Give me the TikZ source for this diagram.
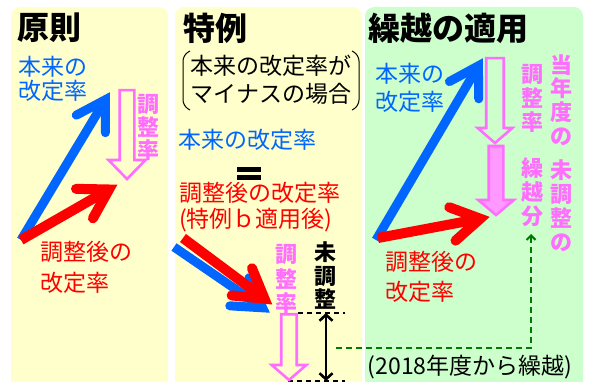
\documentclass[tikz,border=0pt]{standalone}
\usepackage{fontspec}
\setmainfont{Noto Sans CJK JP}
\usetikzlibrary{calc,arrows.meta}
\definecolor{pyel}{HTML}{FFFFCC}
\definecolor{pgrn}{HTML}{CCFFCC}
\definecolor{jblue}{HTML}{0066FF}
\definecolor{jred}{HTML}{FF0000}
\definecolor{jpink}{HTML}{FF6EFF}
\definecolor{jpinkfill}{HTML}{FF99FF}
\definecolor{jgreen}{HTML}{007A00}
\newcommand{\fatarrow}[4]{%
  \draw[#1, line width=#2] (#3) -- ($(#4)!3pt!(#3)$);
  \draw[#1, line width=#2, line cap=round, line join=miter, miter limit=10]
    ($(#4)!33pt!31:(#3)$) -- (#4) -- ($(#4)!33pt!-31:(#3)$);
}
\newcommand{\blockarrow}[7]{%
  \draw[#7] (#1-#5,#2) -- (#1+#5,#2) -- (#1+#5,#3) -- (#1+#6,#3) -- (#1,#4)
    -- (#1-#6,#3) -- (#1-#5,#3) -- cycle;
}
\begin{document}
\begin{tikzpicture}[x=1pt,y=-1pt,
  panel/.style={rounded corners=9pt},
  title/.style={font=\fontsize{32}{34}\selectfont\bfseries, anchor=west, inner sep=0},
  txt/.style={font=\fontsize{23}{#1}\selectfont, anchor=west, inner sep=0, align=left},
  txt/.default=24,
  vtxt/.style={font=\fontsize{22}{#1}\selectfont\bfseries, inner sep=0, align=center, text=jpink},
  vtxt/.default=24,
  hollow/.style={draw=jpink, line width=2.6pt, line join=miter},
  solidar/.style={draw=jpink, fill=jpinkfill, line width=2.6pt, line join=miter},
  guide/.style={line width=1.4pt, dash pattern=on 5pt off 4pt},
]
\useasboundingbox (0,0) rectangle (589,382);
% panels
\fill[pyel, panel] (11,7) rectangle (168,400);
\fill[pyel, panel] (175,7) rectangle (362,400);
\fill[pgrn, panel] (365,7) rectangle (583,400);

% titles
\node[title] (t1) at (17,28) {原則};
\node[title] (t2) at (183,28) {特例};
\node[title] (t3) at (368,28) {繰越の適用};

% ---------- panel 1
\node[txt, text=jblue] (p1blue) at (18,79) {本来の\\改定率};
\node[txt=31, text=jred] (p1red) at (40,267) {調整後の\\改定率};
\coordinate (p1s) at (21,240);
\coordinate (p1bt) at (105.4,99.7);
\coordinate (p1rt) at (109,189.5);
\fatarrow{jblue}{9pt}{p1s}{p1bt}
\fatarrow{jred}{10pt}{p1s}{p1rt}
\blockarrow{127}{90.2}{160}{179}{7.3}{18.5}{hollow}
\node[vtxt=23] (p1adj) at (148,127) {調\\整\\率};

% ---------- panel 2
\draw[line width=1pt, rounded corners=6pt] (190,51) -- (183,55) -- (183,106) -- (190,110);
\draw[line width=1pt, rounded corners=6pt] (352,51) -- (359,55) -- (359,106) -- (352,110);
\node[font=\fontsize{23}{28}\selectfont, inner sep=0, align=center] (cond) at (271,80) {本来の改定率が\\マイナスの場合};
\node[txt, text=jblue] (p2blue) at (178,140) {本来の改定率};
\fill (237,167) rectangle (261,172.5);
\fill (237,175) rectangle (261,180.5);
\node[txt=26, text=jred] (p2red) at (179,207) {調整後の改定率\\(特例ｂ適用後)};
\coordinate (p2bs) at (174,247);
\coordinate (p2bt) at (262.7,307.8);
\coordinate (p2rs) at (183,238);
\coordinate (p2rt) at (264.5,298.7);
\fatarrow{jblue}{9pt}{p2bs}{p2bt}
\fatarrow{jred}{10pt}{p2rs}{p2rt}
\node[vtxt=24.5] (p2adj) at (286,279) {調\\整\\率};
\node[vtxt=23.5, text=black] (p2un) at (325,276) {未\\調\\整};
\coordinate (dl1) at (298,313);
\coordinate (dr1) at (345,313);
\coordinate (dl2) at (288,381);
\coordinate (dr2) at (345,381);
\draw[guide] (dl1) -- (dr1);
\draw[guide] (dl2) -- (dr2);
\coordinate (da) at (326,313);
\coordinate (db) at (326,381);
\draw[line width=2.6pt, {Straight Barb[length=6pt,width=13pt]}-{Straight Barb[length=6pt,width=13pt]}] (da) -- (db);
\blockarrow{289}{314.2}{365}{380}{7.75}{17.3}{hollow}

% ---------- panel 3
\node[txt=28, text=jblue] (p3blue) at (375,88) {本来の\\改定率};
\node[txt=30, text=jred] (p3red) at (385,277) {調整後の\\改定率};
\coordinate (p3bs) at (376,240);
\coordinate (p3bt) at (478.4,65.8);
\coordinate (p3rs) at (378,238);
\coordinate (p3rt) at (480.2,218.7);
\fatarrow{jblue}{9pt}{p3bs}{p3bt}
\fatarrow{jred}{10pt}{p3rs}{p3rt}
\blockarrow{495}{58.2}{128}{143}{8.75}{17.3}{hollow}
\blockarrow{496}{146}{200}{215}{7.3}{17.8}{solidar}
\node[vtxt] (p3adj) at (532,98) {調\\整\\率};
\node[vtxt] (p3carry) at (532,192) {繰\\越\\分};
\node[vtxt=23.7] (p3cur) at (561,100) {当\\年\\度\\の};
\node[vtxt=24] (p3un) at (561,206) {未\\調\\整\\の};

% green dashed carry line
\coordinate (gs) at (336,348);
\coordinate (gc) at (531,348);
\coordinate (ge) at (531,234);
\draw[jgreen, line width=2pt, dash pattern=on 6pt off 4pt, -{Straight Barb[length=4.5pt,width=9pt]}] (gs) -- (gc) -- (ge);
\node[font=\fontsize{23}{26}\selectfont, inner sep=0] (from) at (470,367) {(2018年度から繰越)};
\end{tikzpicture}
\end{document}
